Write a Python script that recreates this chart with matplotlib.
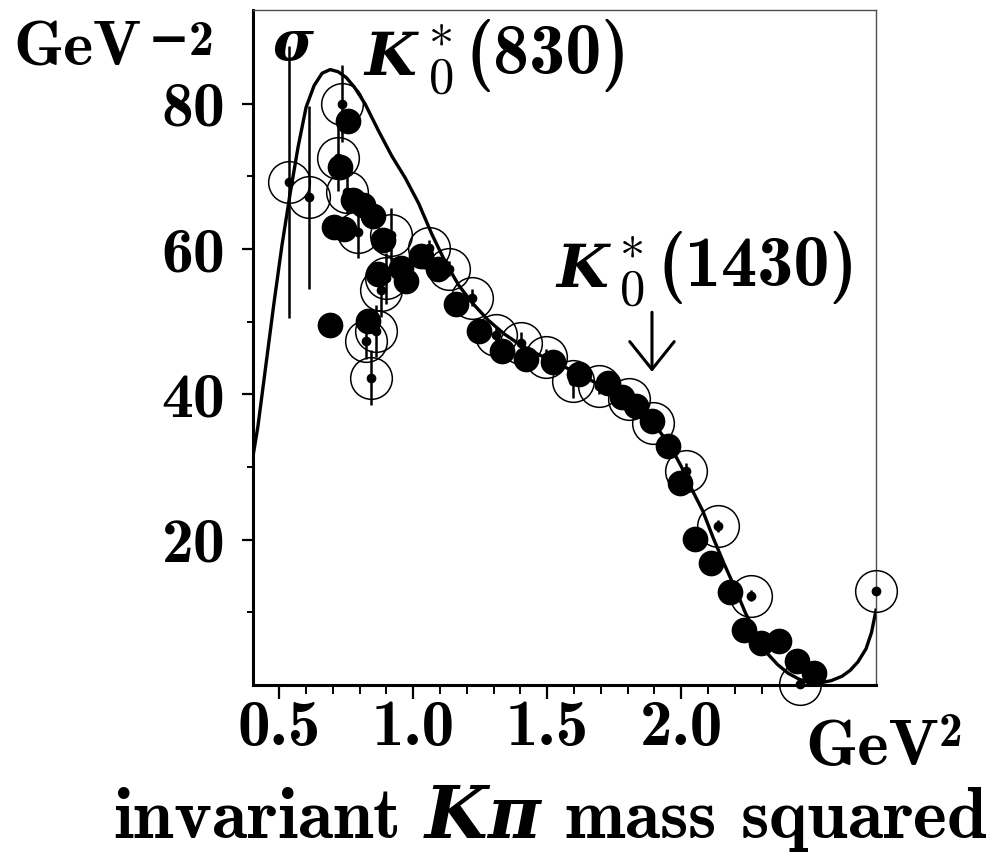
import matplotlib
matplotlib.use("Agg")
import matplotlib.pyplot as plt

plt.rcParams.update({
    'mathtext.fontset': 'custom',
    'mathtext.rm': 'cmr10',
    'mathtext.bf': 'cmb10',
    'mathtext.it': 'DejaVu Serif:italic:bold',
    'mathtext.fallback': 'cm',
    'axes.unicode_minus': False,
})

# ---------------- data ----------------
curve_x = [0.402, 0.42, 0.45, 0.48, 0.51, 0.54, 0.57, 0.60, 0.63, 0.66, 0.69,
           0.72, 0.75, 0.78, 0.82, 0.87, 0.92, 0.97, 1.02, 1.07, 1.12, 1.17,
           1.22, 1.28, 1.34, 1.40, 1.46, 1.52, 1.58, 1.64, 1.70, 1.76, 1.82,
           1.87, 1.92, 1.96, 2.00, 2.04, 2.08, 2.12, 2.16, 2.20, 2.24, 2.28,
           2.32, 2.36, 2.40, 2.44, 2.48, 2.52, 2.56, 2.60, 2.63, 2.66, 2.69,
           2.71, 2.727]
curve_y = [31.5, 35.5, 44.0, 52.5, 60.5, 67.5, 74.0, 79.5, 82.5, 84.2, 84.7,
           84.4, 83.6, 82.3, 80.0, 76.3, 72.8, 69.8, 66.3, 62.0, 58.2, 55.0,
           52.6, 50.2, 48.3, 46.8, 45.6, 44.6, 43.5, 42.4, 41.2, 39.8, 38.2,
           36.6, 34.9, 32.8, 30.1, 26.9, 24.0, 20.2, 16.7, 13.4, 9.9, 7.0,
           4.4, 2.8, 1.6, 0.8, 0.3, 0.3, 0.6, 1.2, 2.0, 3.2, 5.0,
           7.2, 10.3]

filled_x = [0.690, 0.830, 0.755, 0.728, 0.705, 0.742, 0.774, 0.811, 0.848,
            0.886, 0.867, 0.954, 0.973, 1.029, 1.091, 1.159, 1.246, 1.330,
            1.420, 1.520, 1.618, 1.725, 1.780, 1.830, 1.890, 1.949, 1.996,
            2.052, 2.111, 2.183, 2.233, 2.297, 2.366, 2.434, 2.496]
filled_y = [49.5, 50.1, 77.6, 71.3, 63.1, 62.7, 66.8, 66.1, 64.5,
            61.3, 56.5, 57.4, 55.6, 59.0, 57.2, 52.4, 48.7, 45.9,
            44.8, 44.4, 42.8, 41.6, 39.7, 38.4, 36.3, 32.9, 27.8,
            20.1, 16.8, 12.8, 7.6, 5.8, 6.0, 3.3, 1.7]

open_x = [0.536, 0.611, 0.733, 0.718, 0.751, 0.794, 0.916, 0.898, 0.879,
          0.861, 0.824, 0.842, 1.060, 1.132, 1.218, 1.309, 1.402, 1.495,
          1.595, 1.694, 1.806, 1.895, 2.017, 2.138, 2.260, 2.444, 2.727]
open_y = [69.2, 67.1, 80.0, 72.5, 67.9, 62.3, 62.0, 56.0, 54.4,
          48.7, 47.3, 42.3, 60.2, 57.3, 53.3, 48.2, 47.1, 45.2,
          41.8, 41.1, 39.3, 36.0, 29.5, 21.9, 12.3, 0.2, 13.0]
open_err = [18.7, 12.6, 5.3, 4.5, 3.0, 3.5, 3.6, 3.5, 3.7,
            3.6, 2.5, 3.8, 1.0, 1.0, 1.2, 1.0, 1.5, 1.0,
            2.3, 1.0, 1.0, 1.0, 1.0, 0.8, 0.8, 0.5, 0.5]

x_major = [0.5, 1.0, 1.5, 2.0]
x_major_labels = ['0.5', '1.0', '1.5', '2.0']
x_minor = [0.6, 0.7, 0.8, 0.9, 1.1, 1.2, 1.3, 1.4, 1.6, 1.7, 1.8, 1.9,
           2.1, 2.2, 2.3]
y_major = [20, 40, 60, 80]
y_major_labels = ['20', '40', '60', '80']
y_minor = [10, 30, 50, 70]

arrow_x = 1.891         # K0*(1430) marker position (GeV^2)
arrow_y = (51.3, 43.1)  # from / to (GeV^-2)

# ---------------- figure ----------------
W, H = 1003, 852
fig = plt.figure(figsize=(W / 100, H / 100), dpi=100)
ax = fig.add_axes([253 / W, 1 - 685 / H, (876 - 253) / W, (685 - 10) / H])
ax.set_xlim(0.402, 2.727)
ax.set_ylim(0, 92.9)

ax.plot(curve_x, curve_y, color='black', lw=2.4, zorder=3)
ax.errorbar(open_x, open_y, yerr=open_err, fmt='none', ecolor='black',
            elinewidth=1.8, capsize=0, zorder=4, clip_on=False)
ax.plot(open_x, open_y, 'o', ms=30, mfc='none', mec='black', mew=1.1,
        zorder=4, clip_on=False)
ax.plot(open_x, open_y, 'o', ms=6, color='black', zorder=5, clip_on=False)
ax.plot(filled_x, filled_y, 'o', ms=18.5, color='black', mew=0, zorder=6,
        clip_on=False)

ax.annotate('', xy=(arrow_x, arrow_y[1]), xytext=(arrow_x, arrow_y[0]),
            arrowprops=dict(arrowstyle='->,head_length=0.5,head_width=0.4',
                            lw=2.2, color='black', mutation_scale=40,
                            shrinkA=0, shrinkB=0))

for side in ('left', 'bottom'):
    ax.spines[side].set_linewidth(2.2)
for side in ('top', 'right'):
    ax.spines[side].set_linewidth(1.0)
    ax.spines[side].set_color('0.3')

ax.set_xticks(x_major)
ax.set_xticklabels(x_major_labels, fontfamily='cmb10', fontsize=47)
ax.set_xticks(x_minor, minor=True)
ax.set_yticks(y_major)
ax.set_yticklabels(y_major_labels, fontfamily='cmb10', fontsize=46)
ax.set_yticks(y_minor, minor=True)
ax.tick_params(axis='x', which='major', length=10, width=1.6, pad=1)
ax.tick_params(axis='x', which='minor', length=6.5, width=1.4)
ax.tick_params(axis='y', which='major', length=8, width=1.6, pad=12)
ax.tick_params(axis='y', which='minor', length=4, width=1.4)


def ftext(x, y, s, **kw):
    kw.setdefault('ha', 'left')
    kw.setdefault('va', 'baseline')
    fig.text(x / W, 1 - y / H, s, **kw)


# unit of the y axis
ftext(13, 65, 'GeV', fontsize=46, fontfamily='cmb10')
ftext(148, 55, '\u22122', fontsize=36, fontfamily=['cmb10', 'DejaVu Serif'],
      fontweight='bold')

# resonance labels
ftext(272, 60, r'$\sigma$', fontsize=40)

ftext(363, 75, r'$K$', fontsize=43)
ftext(428, 75, r'$^{\ast}_{\mathrm{0}}$', fontsize=52)
ftext(466, 74, '(830)', fontsize=52, fontfamily='cmb10')

ftext(555, 287, r'$K$', fontsize=43)
ftext(619, 287, r'$^{\ast}_{\mathrm{0}}$', fontsize=52)
ftext(658, 286, '(1430)', fontsize=52, fontfamily='cmb10')

# unit of the x axis and its title
ftext(805, 765, 'GeV', fontsize=48, fontfamily='cmb10')
ftext(939, 746, '2', fontsize=34, fontfamily='cmb10')
ftext(113, 838, r'invariant $K\pi$ mass squared', fontsize=52,
      fontfamily='cmb10')

fig.savefig('out.png', dpi=100)
